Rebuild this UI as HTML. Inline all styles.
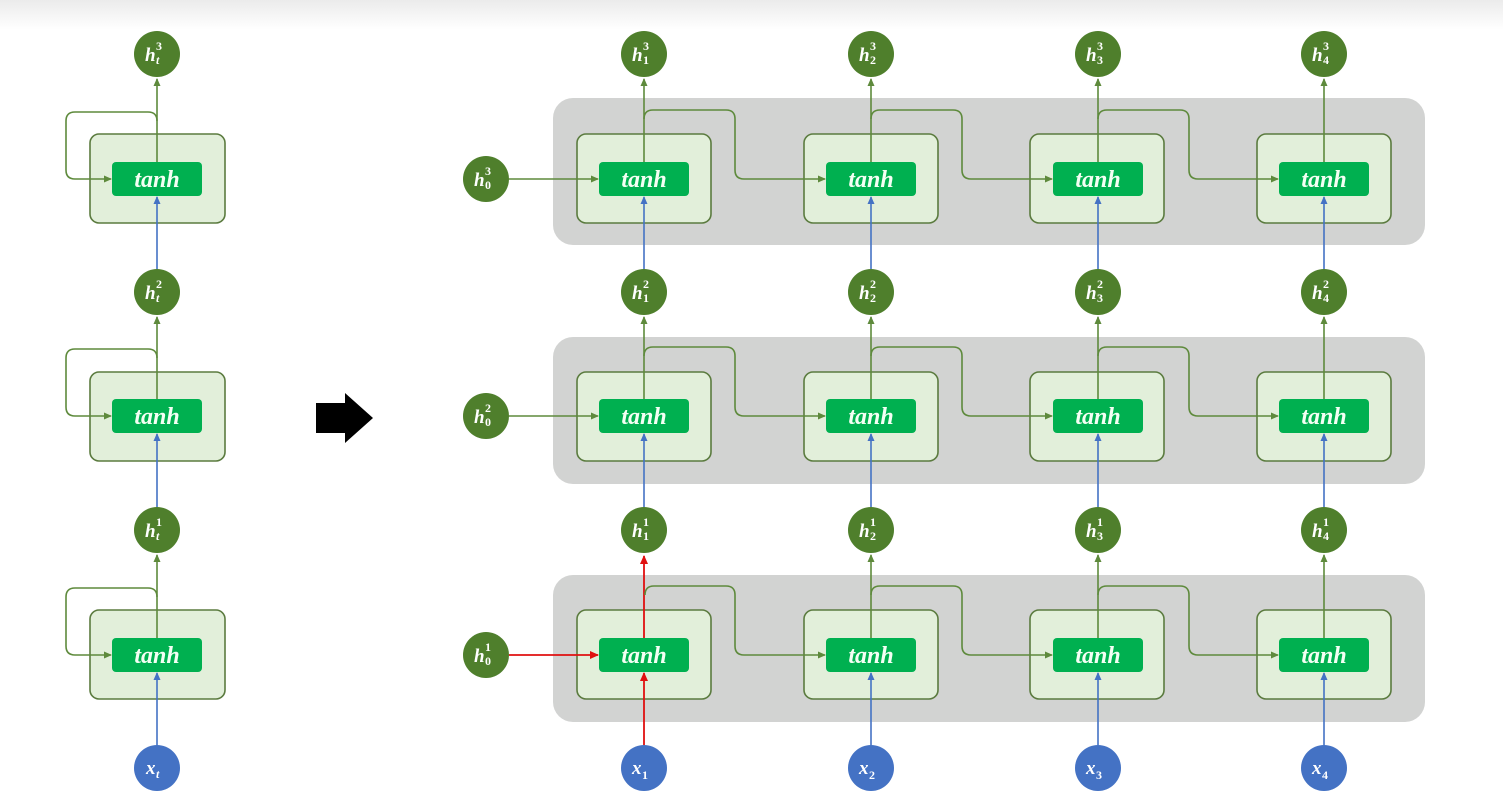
<!DOCTYPE html>
<html><head><meta charset="utf-8"><style>
html,body{margin:0;padding:0;background:#fff;}
svg{display:block}
.band{fill:#d2d3d2}
.cell{fill:#e2efda;stroke:#5b7b3f;stroke-width:1.6}
.tb{fill:#00b050}
.tt{font-family:"Liberation Serif",serif;font-style:italic;font-weight:bold;font-size:24px;fill:#f4fff4;text-anchor:middle}
.g{stroke:#5e8a3c;stroke-width:1.6;fill:none}
.b{stroke:#4472c4;stroke-width:1.6;fill:none}
.r{stroke:#e01010;stroke-width:1.8;fill:none}
.cg{fill:#4f7f2c}
.cb{fill:#4472c4}
.lb{font-family:"Liberation Serif",serif;font-style:italic;font-weight:bold;fill:#fff}
.n{font-family:"Liberation Serif",serif;font-weight:bold;fill:#fff;font-size:12px}
</style></head><body>
<svg width="1503" height="807" viewBox="0 0 1503 807" xmlns="http://www.w3.org/2000/svg">
<defs>
<linearGradient id="bg" x1="0" y1="0" x2="0" y2="1"><stop offset="0" stop-color="#ebebeb"/><stop offset="1" stop-color="#fff"/></linearGradient>
<marker id="ag" markerWidth="8" markerHeight="8" refX="7" refY="4" orient="auto" markerUnits="userSpaceOnUse"><path d="M0,0.5 L8,4 L0,7.5z" fill="#5e8a3c"/></marker>
<marker id="ab" markerWidth="8" markerHeight="8" refX="7" refY="4" orient="auto" markerUnits="userSpaceOnUse"><path d="M0,0.5 L8,4 L0,7.5z" fill="#4472c4"/></marker>
<marker id="ar" markerWidth="9" markerHeight="9" refX="8" refY="4.5" orient="auto" markerUnits="userSpaceOnUse"><path d="M0,0.5 L9,4.5 L0,8.5z" fill="#e01010"/></marker>
</defs>
<rect x="0" y="0" width="1503" height="30" fill="url(#bg)"/>

<rect class="band" x="553" y="98" width="872" height="147" rx="20"/>
<rect class="band" x="553" y="337" width="872" height="147" rx="20"/>
<rect class="band" x="553" y="575" width="872" height="147" rx="20"/>

<rect class="cell" x="90" y="134" width="135" height="89" rx="9"/>
<rect class="cell" x="90" y="372" width="135" height="89" rx="9"/>
<rect class="cell" x="90" y="610" width="135" height="89" rx="9"/>

<g>
<rect class="cell" x="577" y="134" width="134" height="89" rx="9"/><rect class="cell" x="804" y="134" width="134" height="89" rx="9"/><rect class="cell" x="1030" y="134" width="134" height="89" rx="9"/><rect class="cell" x="1257" y="134" width="134" height="89" rx="9"/>
<rect class="cell" x="577" y="372" width="134" height="89" rx="9"/><rect class="cell" x="804" y="372" width="134" height="89" rx="9"/><rect class="cell" x="1030" y="372" width="134" height="89" rx="9"/><rect class="cell" x="1257" y="372" width="134" height="89" rx="9"/>
<rect class="cell" x="577" y="610" width="134" height="89" rx="9"/><rect class="cell" x="804" y="610" width="134" height="89" rx="9"/><rect class="cell" x="1030" y="610" width="134" height="89" rx="9"/><rect class="cell" x="1257" y="610" width="134" height="89" rx="9"/>
</g>

<path class="g" d="M157,162 V79" marker-end="url(#ag)"/>
<path class="g" d="M157,121 Q157,112 148,112 H75 Q66,112 66,121 V170 Q66,179 75,179 H111" marker-end="url(#ag)"/>
<path class="g" d="M157,399 V317" marker-end="url(#ag)"/>
<path class="g" d="M157,358 Q157,349 148,349 H75 Q66,349 66,358 V407 Q66,416 75,416 H111" marker-end="url(#ag)"/>
<path class="g" d="M157,638 V555" marker-end="url(#ag)"/>
<path class="g" d="M157,597 Q157,588 148,588 H75 Q66,588 66,597 V646 Q66,655 75,655 H111" marker-end="url(#ag)"/>
<path class="b" d="M157,745 V673" marker-end="url(#ab)"/>
<path class="b" d="M157,507 V434" marker-end="url(#ab)"/>
<path class="b" d="M157,269 V197" marker-end="url(#ab)"/>

<path class="g" d="M644,162 V79" marker-end="url(#ag)"/>
<path class="g" d="M871,162 V79" marker-end="url(#ag)"/>
<path class="g" d="M1098,162 V79" marker-end="url(#ag)"/>
<path class="g" d="M1324,162 V79" marker-end="url(#ag)"/>
<path class="g" d="M644,399 V317" marker-end="url(#ag)"/>
<path class="g" d="M871,399 V317" marker-end="url(#ag)"/>
<path class="g" d="M1098,399 V317" marker-end="url(#ag)"/>
<path class="g" d="M1324,399 V317" marker-end="url(#ag)"/>
<path class="r" d="M644,638 V556" marker-end="url(#ar)"/>
<path class="g" d="M871,638 V555" marker-end="url(#ag)"/>
<path class="g" d="M1098,638 V555" marker-end="url(#ag)"/>
<path class="g" d="M1324,638 V555" marker-end="url(#ag)"/>

<path class="g" d="M644,119 Q644,110 653,110 H726 Q735,110 735,119 V170 Q735,179 744,179 H825" marker-end="url(#ag)"/>
<path class="g" d="M871,119 Q871,110 880,110 H953 Q962,110 962,119 V170 Q962,179 971,179 H1052" marker-end="url(#ag)"/>
<path class="g" d="M1098,119 Q1098,110 1107,110 H1180 Q1189,110 1189,119 V170 Q1189,179 1198,179 H1278" marker-end="url(#ag)"/>
<path class="g" d="M644,356 Q644,347 653,347 H726 Q735,347 735,356 V407 Q735,416 744,416 H825" marker-end="url(#ag)"/>
<path class="g" d="M871,356 Q871,347 880,347 H953 Q962,347 962,356 V407 Q962,416 971,416 H1052" marker-end="url(#ag)"/>
<path class="g" d="M1098,356 Q1098,347 1107,347 H1180 Q1189,347 1189,356 V407 Q1189,416 1198,416 H1278" marker-end="url(#ag)"/>
<path class="g" d="M645,595 Q645,586 654,586 H726 Q735,586 735,595 V646 Q735,655 744,655 H825" marker-end="url(#ag)"/>
<path class="g" d="M871,595 Q871,586 880,586 H953 Q962,586 962,595 V646 Q962,655 971,655 H1052" marker-end="url(#ag)"/>
<path class="g" d="M1098,595 Q1098,586 1107,586 H1180 Q1189,586 1189,595 V646 Q1189,655 1198,655 H1278" marker-end="url(#ag)"/>

<path class="g" d="M509,179 H598" marker-end="url(#ag)"/>
<path class="g" d="M509,416 H598" marker-end="url(#ag)"/>
<path class="r" d="M509,655 H598" marker-end="url(#ar)"/>

<path class="r" d="M644,745 V673" marker-end="url(#ar)"/>
<path class="b" d="M871,745 V673" marker-end="url(#ab)"/>
<path class="b" d="M1098,745 V673" marker-end="url(#ab)"/>
<path class="b" d="M1324,745 V673" marker-end="url(#ab)"/>
<path class="b" d="M644,507 V434" marker-end="url(#ab)"/>
<path class="b" d="M871,507 V434" marker-end="url(#ab)"/>
<path class="b" d="M1098,507 V434" marker-end="url(#ab)"/>
<path class="b" d="M1324,507 V434" marker-end="url(#ab)"/>
<path class="b" d="M644,269 V197" marker-end="url(#ab)"/>
<path class="b" d="M871,269 V197" marker-end="url(#ab)"/>
<path class="b" d="M1098,269 V197" marker-end="url(#ab)"/>
<path class="b" d="M1324,269 V197" marker-end="url(#ab)"/>

<g>
<rect class="tb" x="112" y="162" width="90" height="34" rx="4"/><text class="tt" x="157" y="187">tanh</text>
<rect class="tb" x="112" y="399" width="90" height="34" rx="4"/><text class="tt" x="157" y="424">tanh</text>
<rect class="tb" x="112" y="638" width="90" height="34" rx="4"/><text class="tt" x="157" y="663">tanh</text>
<rect class="tb" x="599" y="162" width="90" height="34" rx="4"/><text class="tt" x="644" y="187">tanh</text>
<rect class="tb" x="826" y="162" width="90" height="34" rx="4"/><text class="tt" x="871" y="187">tanh</text>
<rect class="tb" x="1053" y="162" width="90" height="34" rx="4"/><text class="tt" x="1098" y="187">tanh</text>
<rect class="tb" x="1279" y="162" width="90" height="34" rx="4"/><text class="tt" x="1324" y="187">tanh</text>
<rect class="tb" x="599" y="399" width="90" height="34" rx="4"/><text class="tt" x="644" y="424">tanh</text>
<rect class="tb" x="826" y="399" width="90" height="34" rx="4"/><text class="tt" x="871" y="424">tanh</text>
<rect class="tb" x="1053" y="399" width="90" height="34" rx="4"/><text class="tt" x="1098" y="424">tanh</text>
<rect class="tb" x="1279" y="399" width="90" height="34" rx="4"/><text class="tt" x="1324" y="424">tanh</text>
<rect class="tb" x="599" y="638" width="90" height="34" rx="4"/><text class="tt" x="644" y="663">tanh</text>
<rect class="tb" x="826" y="638" width="90" height="34" rx="4"/><text class="tt" x="871" y="663">tanh</text>
<rect class="tb" x="1053" y="638" width="90" height="34" rx="4"/><text class="tt" x="1098" y="663">tanh</text>
<rect class="tb" x="1279" y="638" width="90" height="34" rx="4"/><text class="tt" x="1324" y="663">tanh</text>
</g>

<path d="M316,403 H345 V393 L373,418 L345,443 V433 H316 Z" fill="#000"/>

<g>
<circle class="cg" cx="157" cy="54" r="23"/><text class="lb" x="145" y="61" font-size="19">h</text><text class="n" x="156" y="50">3</text><text class="lb" x="156" y="64" font-size="12">t</text>
<circle class="cg" cx="157" cy="292" r="23"/><text class="lb" x="145" y="299" font-size="19">h</text><text class="n" x="156" y="288">2</text><text class="lb" x="156" y="302" font-size="12">t</text>
<circle class="cg" cx="157" cy="530" r="23"/><text class="lb" x="145" y="537" font-size="19">h</text><text class="n" x="156" y="526">1</text><text class="lb" x="156" y="540" font-size="12">t</text>
<circle class="cb" cx="157" cy="768" r="23"/><text class="lb" x="146" y="774" font-size="19">x</text><text class="lb" x="156" y="778" font-size="12">t</text>

<circle class="cg" cx="486" cy="179" r="23"/><text class="lb" x="474" y="186" font-size="19">h</text><text class="n" x="485" y="175">3</text><text class="n" x="485" y="189">0</text>
<circle class="cg" cx="486" cy="416" r="23"/><text class="lb" x="474" y="423" font-size="19">h</text><text class="n" x="485" y="412">2</text><text class="n" x="485" y="426">0</text>
<circle class="cg" cx="486" cy="655" r="23"/><text class="lb" x="474" y="662" font-size="19">h</text><text class="n" x="485" y="651">1</text><text class="n" x="485" y="665">0</text>

<circle class="cg" cx="644" cy="54" r="23"/><text class="lb" x="632" y="61" font-size="19">h</text><text class="n" x="643" y="50">3</text><text class="n" x="643" y="64">1</text>
<circle class="cg" cx="871" cy="54" r="23"/><text class="lb" x="859" y="61" font-size="19">h</text><text class="n" x="870" y="50">3</text><text class="n" x="870" y="64">2</text>
<circle class="cg" cx="1098" cy="54" r="23"/><text class="lb" x="1086" y="61" font-size="19">h</text><text class="n" x="1097" y="50">3</text><text class="n" x="1097" y="64">3</text>
<circle class="cg" cx="1324" cy="54" r="23"/><text class="lb" x="1312" y="61" font-size="19">h</text><text class="n" x="1323" y="50">3</text><text class="n" x="1323" y="64">4</text>

<circle class="cg" cx="644" cy="292" r="23"/><text class="lb" x="632" y="299" font-size="19">h</text><text class="n" x="643" y="288">2</text><text class="n" x="643" y="302">1</text>
<circle class="cg" cx="871" cy="292" r="23"/><text class="lb" x="859" y="299" font-size="19">h</text><text class="n" x="870" y="288">2</text><text class="n" x="870" y="302">2</text>
<circle class="cg" cx="1098" cy="292" r="23"/><text class="lb" x="1086" y="299" font-size="19">h</text><text class="n" x="1097" y="288">2</text><text class="n" x="1097" y="302">3</text>
<circle class="cg" cx="1324" cy="292" r="23"/><text class="lb" x="1312" y="299" font-size="19">h</text><text class="n" x="1323" y="288">2</text><text class="n" x="1323" y="302">4</text>

<circle class="cg" cx="644" cy="530" r="23"/><text class="lb" x="632" y="537" font-size="19">h</text><text class="n" x="643" y="526">1</text><text class="n" x="643" y="540">1</text>
<circle class="cg" cx="871" cy="530" r="23"/><text class="lb" x="859" y="537" font-size="19">h</text><text class="n" x="870" y="526">1</text><text class="n" x="870" y="540">2</text>
<circle class="cg" cx="1098" cy="530" r="23"/><text class="lb" x="1086" y="537" font-size="19">h</text><text class="n" x="1097" y="526">1</text><text class="n" x="1097" y="540">3</text>
<circle class="cg" cx="1324" cy="530" r="23"/><text class="lb" x="1312" y="537" font-size="19">h</text><text class="n" x="1323" y="526">1</text><text class="n" x="1323" y="540">4</text>

<circle class="cb" cx="644" cy="768" r="23"/><text class="lb" x="632" y="774" font-size="19">x</text><text class="n" x="642" y="779">1</text>
<circle class="cb" cx="871" cy="768" r="23"/><text class="lb" x="859" y="774" font-size="19">x</text><text class="n" x="869" y="779">2</text>
<circle class="cb" cx="1098" cy="768" r="23"/><text class="lb" x="1086" y="774" font-size="19">x</text><text class="n" x="1096" y="779">3</text>
<circle class="cb" cx="1324" cy="768" r="23"/><text class="lb" x="1312" y="774" font-size="19">x</text><text class="n" x="1322" y="779">4</text>
</g>
</svg>
</body></html>
